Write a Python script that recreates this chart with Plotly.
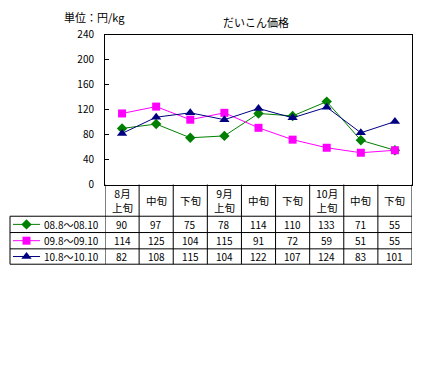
import plotly.graph_objects as go

W, H = 431, 371

categories = ["8月<br>上旬", "中旬", "下旬", "9月<br>上旬", "中旬", "下旬", "10月<br>上旬", "中旬", "下旬"]
series_names = ["08.8～08.10", "09.8～09.10", "10.8～10.10"]
s08 = [90, 97, 75, 78, 114, 110, 133, 71, 55]
s09 = [114, 125, 104, 115, 91, 72, 59, 51, 55]
s10 = [82, 108, 115, 104, 122, 107, 124, 83, 101]
y_ticks = [0, 40, 80, 120, 160, 200, 240]

colors = ["#008000", "#FF00FF", "#000080"]
symbols = ["diamond", "square", "triangle-up"]
msizes = [8, 8, 9]
values = [s08, s09, s10]

FONT = "Noto Sans CJK JP, DejaVu Sans, sans-serif"

def px(x):
    return x / W

def py(y):
    return 1 - y / H

# layout pixel geometry
PL, PR, PT, PB = 105, 412, 28, 184
TL = 10
ROW_Y = [217, 234, 251, 267]

fig = go.Figure()
xs = list(range(len(categories)))
for name, vals, c, s, ms in zip(series_names, values, colors, symbols, msizes):
    fig.add_trace(go.Scatter(
        x=xs, y=vals, mode="lines+markers", name=name,
        line=dict(color=c, width=1),
        marker=dict(symbol=s, size=ms, color=c),
        showlegend=False, cliponaxis=False,
    ))

# legend samples inside the table (full-page pixel axes)
for i, (c, s, ms) in enumerate(zip(colors, symbols, msizes)):
    yc = (ROW_Y[i] + ROW_Y[i + 1]) / 2
    fig.add_trace(go.Scatter(x=[13, 40], y=[yc, yc], mode="lines",
                             line=dict(color=c, width=1), xaxis="x2", yaxis="y2",
                             showlegend=False, hoverinfo="skip"))
    fig.add_trace(go.Scatter(x=[26.5], y=[yc], mode="markers",
                             marker=dict(symbol=s, size=ms, color=c), xaxis="x2", yaxis="y2",
                             showlegend=False, hoverinfo="skip"))

shapes = []
line = dict(color="black", width=1)
for yy in ROW_Y:
    shapes.append(dict(type="line", xref="paper", yref="paper",
                       x0=px(TL), x1=px(PR), y0=py(yy), y1=py(yy), line=line))
shapes.append(dict(type="line", xref="paper", yref="paper",
                   x0=px(TL), x1=px(TL), y0=py(ROW_Y[0]), y1=py(ROW_Y[-1]), line=line))
for i in range(len(categories) + 1):
    shapes.append(dict(type="line", xref="x", yref="paper",
                       x0=i - 0.5, x1=i - 0.5, y0=py(PB), y1=py(ROW_Y[-1]), line=line))

annotations = []
for i, cat in enumerate(categories):
    annotations.append(dict(x=i, y=py((PB + ROW_Y[0]) / 2), xref="x", yref="paper",
                            text=cat, showarrow=False, xanchor="center", yanchor="middle",
                            font=dict(size=10.5, color="black", family=FONT)))
for r, vals in enumerate(values):
    yc = (ROW_Y[r] + ROW_Y[r + 1]) / 2
    for i, v in enumerate(vals):
        annotations.append(dict(x=i, y=py(yc), xref="x", yref="paper",
                                text=str(v), showarrow=False, xanchor="center", yanchor="middle",
                                font=dict(size=10, color="black", family=FONT)))
    annotations.append(dict(x=px(42), y=py(yc), xref="paper", yref="paper",
                            text=series_names[r], showarrow=False, xanchor="left", yanchor="middle",
                            font=dict(size=10, color="black", family=FONT)))

annotations.append(dict(x=px(256), y=py(15), xref="paper", yref="paper", text="だいこん価格",
                        showarrow=False, xanchor="center", yanchor="middle",
                        font=dict(size=11, color="black", family=FONT)))
annotations.append(dict(x=px(62), y=py(9), xref="paper", yref="paper", text="単位：円/kg",
                        showarrow=False, xanchor="left", yanchor="middle",
                        font=dict(size=11, color="black", family=FONT)))

fig.update_layout(
    width=W, height=H,
    margin=dict(l=0, r=0, t=0, b=0),
    paper_bgcolor="white", plot_bgcolor="rgba(0,0,0,0)",
    xaxis=dict(domain=[px(PL), px(PR)], range=[-0.5, 8.5], showticklabels=False,
               showgrid=False, zeroline=False, showline=True, mirror=True,
               linecolor="black", linewidth=1, ticks="", fixedrange=True),
    yaxis=dict(domain=[py(PB), py(PT)], range=[0, 240], tickvals=y_ticks,
               showgrid=False, zeroline=False, showline=True, mirror=True,
               linecolor="black", linewidth=1, ticks="inside", ticklen=4,
               tickcolor="black", ticklabelstandoff=8,
               tickfont=dict(size=10, color="black", family=FONT)),
    xaxis2=dict(domain=[0, 1], range=[0, W], visible=False, anchor="y2"),
    yaxis2=dict(domain=[0, 1], range=[H, 0], visible=False, anchor="x2"),
    shapes=shapes, annotations=annotations,
    showlegend=False,
)

fig.write_html("out.html", config={"displayModeBar": False},
               post_script="document.body.style.margin='0';")
